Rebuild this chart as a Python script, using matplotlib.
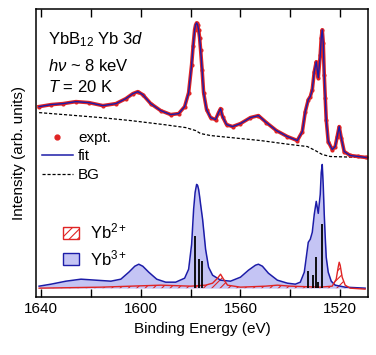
import numpy as np
import matplotlib
matplotlib.use('Agg')
import matplotlib.pyplot as plt
from matplotlib.patches import Patch
from matplotlib.lines import Line2D

plt.rcParams['font.family'] = ['Liberation Sans', 'DejaVu Sans']
plt.rcParams['mathtext.fontset'] = 'custom'
plt.rcParams['mathtext.rm'] = 'Liberation Sans'
plt.rcParams['mathtext.it'] = 'Liberation Sans:italic'
plt.rcParams['hatch.linewidth'] = 0.8

# Measured spectrum (binding energy in eV, intensity in arb. units)
expt_E = [1640.8, 1636.0, 1631.2, 1626.0, 1620.8, 1615.2, 1610.0, 1606.0, 1603.2, 1601.2,
          1599.2, 1596.0, 1592.0, 1588.0, 1584.8, 1582.4, 1580.8, 1579.6, 1579.0, 1578.4,
          1578.0, 1577.6, 1577.2, 1576.8, 1576.4, 1576.0, 1575.4, 1574.8, 1573.6, 1572.0,
          1570.0, 1568.8, 1568.0, 1567.2, 1565.6, 1563.2, 1560.0, 1556.0, 1552.8, 1549.6,
          1545.6, 1541.2, 1537.2, 1535.2, 1534.0, 1532.8, 1532.0, 1531.2, 1530.4, 1529.6,
          1528.8, 1528.0, 1527.6, 1527.2, 1526.8, 1526.4, 1526.0, 1525.6, 1524.8, 1523.2,
          1522.0, 1521.2, 1520.4, 1519.6, 1518.4, 1516.0, 1512.8, 1509.6]
expt_I = [191, 193, 194, 196, 195, 192, 194, 199, 204, 206,
          203, 194, 187, 183, 184, 191, 205, 233, 252, 268,
          273, 275, 273, 268, 260, 248, 228, 205, 188, 180,
          178, 185, 189, 181, 173, 171, 174, 180, 182, 175,
          167, 161, 157, 166, 186, 198, 201, 208, 226, 236,
          220, 243, 260, 268, 255, 223, 200, 178, 156, 148,
          151, 161, 171, 160, 146, 142, 141, 140]

# Shirley-type background
bg_E = [1640.8, 1630.8, 1616.0, 1604.0, 1590.8, 1582.0, 1578.0, 1576.0, 1572.0, 1564.0,
        1552.0, 1540.0, 1533.2, 1530.0, 1527.2, 1524.0, 1510.8]
bg_I = [185, 183, 180, 177, 173, 170, 167, 164, 162, 160,
        157, 153, 151, 147, 143, 141, 140]

# Yb3+ component
yb3_E = [1640.8, 1636.0, 1630.0, 1624.0, 1618.0, 1612.0, 1608.0, 1604.8, 1602.4, 1600.8,
         1599.2, 1596.8, 1593.6, 1590.0, 1586.0, 1582.4, 1580.8, 1579.6, 1578.8, 1578.2,
         1577.6, 1577.2, 1576.8, 1576.4, 1576.0, 1575.2, 1574.0, 1572.8, 1571.2, 1568.0,
         1564.0, 1560.0, 1556.8, 1554.0, 1552.8, 1551.2, 1548.8, 1545.2, 1541.2, 1538.0,
         1536.0, 1534.4, 1533.6, 1532.8, 1532.0, 1531.2, 1530.4, 1529.6, 1528.8, 1528.0,
         1527.6, 1527.2, 1526.8, 1526.4, 1526.0, 1525.6, 1524.8, 1523.6, 1522.0, 1518.0,
         1510.0]
yb3_I = [11, 13, 16, 18, 17, 16, 18, 25, 31, 33,
         31, 25, 18, 15, 15, 19, 28, 53, 88, 105,
         113, 112, 108, 101, 93, 78, 48, 30, 22, 17,
         16, 20, 27, 32, 33, 31, 24, 17, 14, 13,
         15, 25, 40, 55, 58, 65, 83, 96, 84, 103,
         125, 133, 112, 83, 60, 40, 25, 16, 12, 10,
         9]

# Yb2+ component
yb2_E = [1640.8, 1616.0, 1604.0, 1592.0, 1580.0, 1574.0, 1571.2, 1569.2, 1568.0, 1566.8,
         1565.2, 1560.0, 1550.0, 1545.2, 1540.0, 1528.0, 1523.2, 1521.6, 1520.8, 1520.4,
         1520.0, 1519.2, 1518.0, 1516.0, 1510.0]
yb2_I = [9, 10, 11, 12, 11, 12, 14, 19, 23, 18,
         12, 10, 11, 12, 11, 10, 11, 18, 30, 35,
         32, 20, 12, 9, 8]

# multiplet lines
stick_E = [1578.4, 1576.8, 1575.6, 1532.8, 1530.8, 1529.6, 1528.8, 1527.2]
stick_I = [61, 38, 36, 26, 22, 40, 15, 73]
base = 9

red = '#e02424'
blue = '#1c1ca8'
fill_blue = '#c4c4f4'

fig = plt.figure(figsize=(3.76, 3.55), dpi=100)
ax = fig.add_axes([0.096, 0.163, 0.883, 0.812])

# components
ax.fill_between(yb3_E, base, yb3_I, color=fill_blue, lw=0)
ax.plot(yb3_E, yb3_I, color=blue, lw=1.1)
ax.fill_between(yb2_E, base, yb2_I, facecolor='none', edgecolor=red, hatch='////', lw=0)
ax.plot(yb2_E, yb2_I, color=red, lw=1.0)
ax.vlines(stick_E, base, stick_I, color='black', lw=1.3)

# spectrum
ax.plot(bg_E, bg_I, color='black', ls=(0, (2.5, 1.5)), lw=0.9)
ax.plot(expt_E, expt_I, color=red, lw=2.6, marker='o', ms=3, mew=0)
ax.plot(expt_E, expt_I, color=blue, lw=1.0)

ax.set_xlim(1642, 1508.8)
ax.set_ylim(0, 289)
ax.set_xticks([1640, 1600, 1560, 1520])
ax.set_xticks([1620, 1580, 1540], minor=True)
ax.tick_params(axis='x', which='both', direction='in', top=True, length=6, width=1, labelsize=11)
ax.set_yticks([])
for s in ax.spines.values():
    s.set_linewidth(1.1)
ax.set_xlabel('Binding Energy (eV)', fontsize=11)
ax.set_ylabel('Intensity (arb. units)', fontsize=11, labelpad=7)

ax.text(0.036, 0.892, 'YbB$_{12}$ Yb 3$d$', transform=ax.transAxes, fontsize=12, va='center')
ax.text(0.036, 0.802, '$h\\nu$ ~ 8 keV', transform=ax.transAxes, fontsize=12, va='center')
ax.text(0.036, 0.729, '$T$ = 20 K', transform=ax.transAxes, fontsize=12, va='center')

h1 = [Line2D([], [], color=red, marker='o', ms=3.5, ls='none'),
      Line2D([], [], color=blue, lw=1.1),
      Line2D([], [], color='black', ls=(0, (2.5, 1.5)), lw=0.9)]
leg1 = ax.legend(h1, ['expt.', 'fit', 'BG'], loc='upper left', bbox_to_anchor=(0.0, 0.598),
                 frameon=False, fontsize=11, handlelength=2.0, handletextpad=0.35,
                 labelspacing=0.3, borderaxespad=0)
ax.add_artist(leg1)

h2 = [Patch(facecolor='white', edgecolor=red, hatch='////', lw=1),
      Patch(facecolor=fill_blue, edgecolor=blue, lw=1)]
ax.legend(h2, ['Yb$^{2+}$', 'Yb$^{3+}$'], loc='upper left', bbox_to_anchor=(0.06, 0.285),
          frameon=False, fontsize=12, handlelength=0.95, handleheight=0.7, handletextpad=0.7,
          labelspacing=0.4, borderaxespad=0)

fig.savefig('out.png', dpi=100)
